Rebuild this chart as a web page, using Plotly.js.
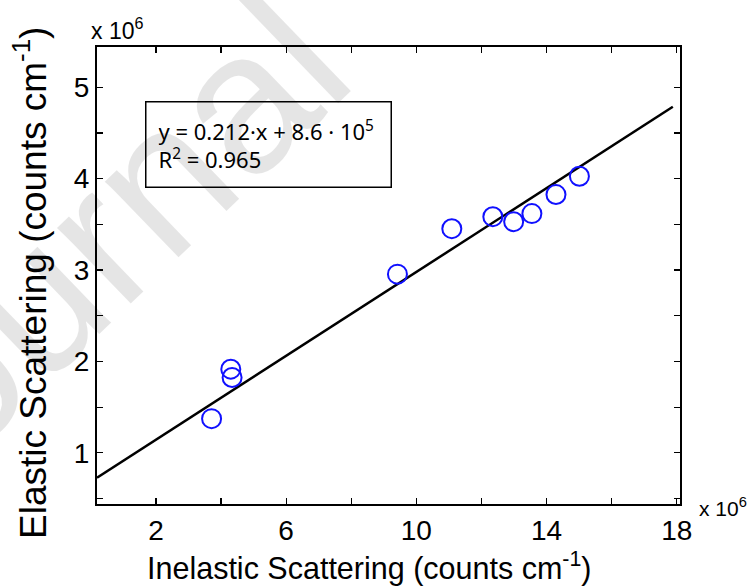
<!DOCTYPE html>
<html>
<head>
<meta charset="utf-8">
<script src="https://cdn.plot.ly/plotly-3.0.1.min.js"></script>
<style>
  html, body { margin: 0; padding: 0; background: #ffffff; }
  #chart { width: 748px; height: 587px; }
</style>
</head>
<body>
<div id="chart"></div>
<script>
// Measured scattering intensities, in units of 10^6 counts cm^-1
const inelastic = [3.71, 4.30, 4.34, 9.42, 11.09, 12.35, 12.99, 13.55, 14.29, 15.01];
const elastic   = [1.374, 1.915, 1.824, 2.955, 3.452, 3.584, 3.529, 3.617, 3.825, 4.026];

// End points of the fitted regression line
const fitX = [0.19, 17.88];
const fitY = [0.727, 4.787];

// Tick positions and labels (minor ticks carry empty labels)
const xTickVals = [2, 4, 6, 8, 10, 12, 14, 16, 18];
const xTickText = ['2', '', '6', '', '10', '', '14', '', '18'];
const yTickVals = [0.5, 1, 1.5, 2, 2.5, 3, 3.5, 4, 4.5, 5];
const yTickText = ['', '1', '', '2', '', '3', '', '4', '', '5'];

// Axis titles and fit statistics shown in the box
const xTitle = 'Inelastic Scattering (counts cm<sup>-1</sup>)';
const yTitle = 'Elastic Scattering (counts cm<sup>-1</sup>)';
const fitEquation = 'y = 0.212·x + 8.6 · 10<sup>5</sup>';
const fitR2 = 'R<sup>2</sup> = 0.965';

const axisFont = 'Liberation Sans, Arial, Helvetica, sans-serif';

// Plot area in pixels, used to place the free-standing texts
const L = 97, R = 680, T = 47, B = 504;
const px = (x) => (x - L) / (R - L);
const py = (y) => (B - y) / (B - T);

const traces = [
  {
    x: fitX, y: fitY,
    type: 'scatter', mode: 'lines',
    line: { color: '#000000', width: 2.5 },
    hoverinfo: 'skip', showlegend: false
  },
  {
    x: inelastic, y: elastic,
    type: 'scatter', mode: 'markers',
    marker: { symbol: 'circle-open', size: 19, color: '#1010ff', line: { width: 2, color: '#1010ff' } },
    showlegend: false
  }
];

const axisCommon = {
  showline: true, linecolor: '#000000', linewidth: 2,
  mirror: 'allticks', ticks: 'inside', ticklen: 6, tickwidth: 1.2, tickcolor: '#000000',
  showgrid: false, zeroline: false,
  tickfont: { family: axisFont, size: 28, color: '#000000' }
};

const layout = {
  width: 748, height: 587,
  margin: { l: L, r: 748 - R, t: T, b: 587 - B },
  paper_bgcolor: '#ffffff', plot_bgcolor: 'rgba(0,0,0,0)',
  xaxis: Object.assign({}, axisCommon, {
    range: [0.19, 18.1],
    tickmode: 'array', tickvals: xTickVals, ticktext: xTickText
  }),
  yaxis: Object.assign({}, axisCommon, {
    range: [0.44, 5.44],
    tickmode: 'array', tickvals: yTickVals, ticktext: yTickText
  }),
  annotations: [
    {
      // faint diagonal watermark behind the figure
      text: 'Journal', xref: 'paper', yref: 'paper',
      x: px(76), y: py(259), xanchor: 'center', yanchor: 'middle',
      showarrow: false, textangle: -44,
      font: { family: axisFont, size: 200, color: 'rgba(0,0,0,0.1)' }
    },
    {
      text: xTitle, xref: 'paper', yref: 'paper',
      x: px(369), y: py(566), xanchor: 'center', yanchor: 'middle',
      showarrow: false,
      font: { family: axisFont, size: 30.5, color: '#000000' }
    },
    {
      text: yTitle, xref: 'paper', yref: 'paper',
      x: px(30), y: py(283), xanchor: 'center', yanchor: 'middle',
      showarrow: false, textangle: -90,
      font: { family: axisFont, size: 37, color: '#000000' }
    },
    {
      text: fitEquation + '<br>' + fitR2,
      xref: 'paper', yref: 'paper',
      x: px(145), y: py(101), xanchor: 'left', yanchor: 'top',
      showarrow: false, align: 'left', valign: 'middle',
      width: 220, height: 60, borderpad: 12,
      bordercolor: '#000000', borderwidth: 1.5, bgcolor: 'rgba(255,255,255,0)',
      font: { family: 'Noto Sans, Open Sans, sans-serif', size: 22, color: '#000000' }
    },
    {
      text: 'x 10<sup>6</sup>', xref: 'paper', yref: 'paper',
      x: px(89), y: py(29), xanchor: 'left', yanchor: 'middle',
      showarrow: false,
      font: { family: axisFont, size: 23, color: '#000000' }
    },
    {
      text: 'x 10<sup>6</sup>', xref: 'paper', yref: 'paper',
      x: px(697), y: py(507), xanchor: 'left', yanchor: 'middle',
      showarrow: false,
      font: { family: axisFont, size: 21, color: '#000000' }
    }
  ]
};

Plotly.newPlot('chart', traces, layout, { displayModeBar: false, staticPlot: true });
</script>
</body>
</html>
